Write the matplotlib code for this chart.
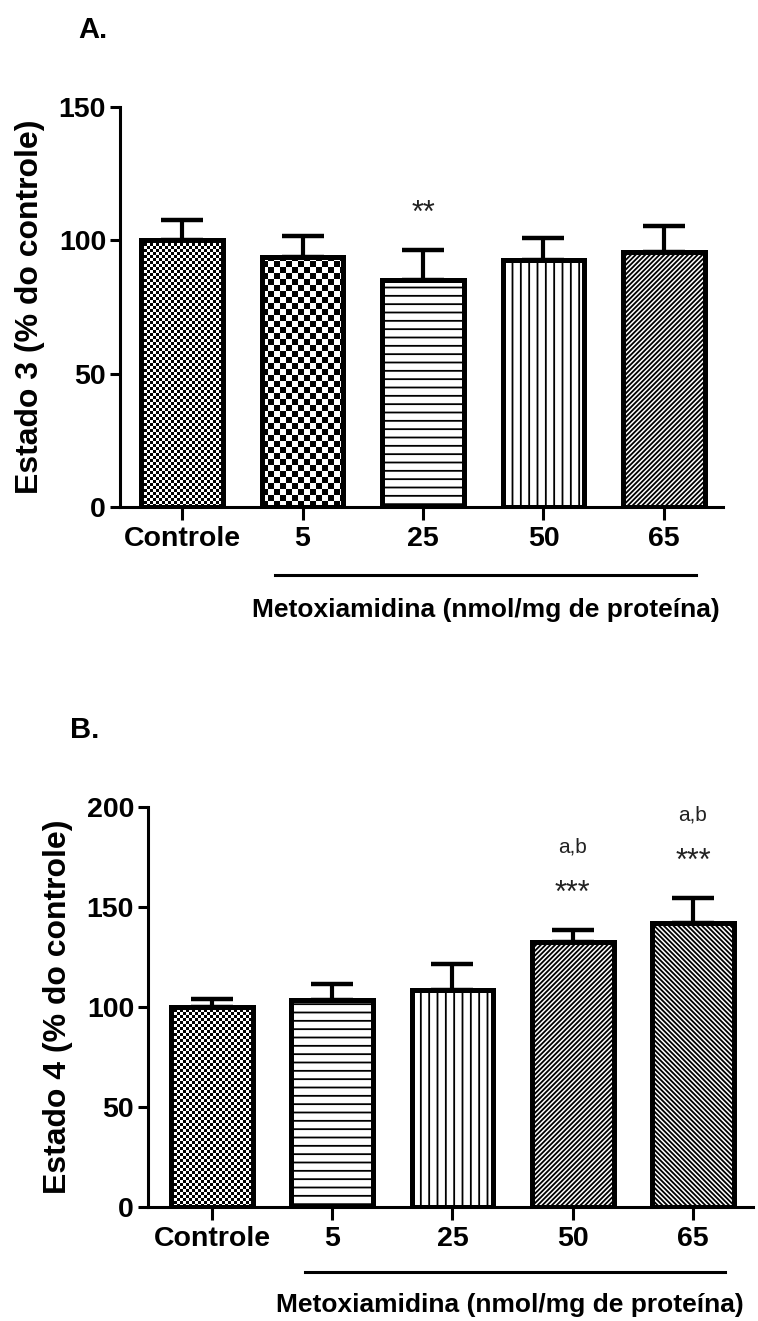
import matplotlib

matplotlib.use("Agg")

import matplotlib.pyplot as plt
import matplotlib.transforms as mtransforms
import numpy as np

plt.rcParams["font.family"] = ["Liberation Sans", "DejaVu Sans"]
plt.rcParams["font.weight"] = "bold"
plt.rcParams["hatch.linewidth"] = 1.3

# ---------------------------------------------------------------------------
# Data
# ---------------------------------------------------------------------------
categories = ["Controle", "5", "25", "50", "65"]

estado3_mean = [100.0, 93.7, 85.1, 92.6, 95.6]
estado3_sem = [7.6, 7.9, 11.3, 8.3, 9.8]
estado3_stars = ["", "", "**", "", ""]
estado3_letters = ["", "", "", "", ""]

estado4_mean = [100.0, 103.5, 108.5, 132.5, 142.0]
estado4_sem = [3.8, 8.0, 13.0, 6.0, 12.5]
estado4_stars = ["", "", "", "***", "***"]
estado4_letters = ["", "", "", "a,b", "a,b"]

# fill style per bar: "checkerN" = checkerboard with N-px cells, else a hatch
fills_a = ["checker3", "checker6", "--", "||", "/" * 7]
fills_b = ["checker3", "--", "||", "/" * 7, "\\" * 7]

XLABEL = "Metoxiamidina (nmol/mg de proteína)"


def _add_checker(ax, bar, cell):
    """Overlay a pixel checkerboard clipped to one bar."""
    x0, y0 = bar.get_x(), bar.get_y()
    x1, y1 = x0 + bar.get_width(), y0 + bar.get_height()
    (px0, py0), (px1, py1) = ax.transData.transform([(x0, y0), (x1, y1)])
    w, h = int(round(px1 - px0)), int(round(py1 - py0))
    jj, ii = np.meshgrid(np.arange(w), np.arange(h))
    board = ((ii // cell + jj // cell) % 2).astype(float)
    im = ax.imshow(
        board,
        cmap="gray",
        vmin=0,
        vmax=1,
        extent=(x0, x1, y0, y1),
        origin="lower",
        aspect="auto",
        interpolation="nearest",
        zorder=2.5,
    )
    im.set_clip_path(bar)


def _panel(ax, means, sems, fills, stars, letters, ylim, yticks, ylabel, xlim, line_y, label_x, label_y):
    x = np.arange(len(categories))
    ax.set_xlim(*xlim)
    ax.set_ylim(*ylim)

    bars = ax.bar(x, means, width=0.68, color="white", edgecolor="black", linewidth=3.6, zorder=2)
    for bar, fill in zip(bars, fills):
        if fill.startswith("checker"):
            _add_checker(ax, bar, int(fill[len("checker"):]))
        else:
            bar.set_hatch(fill)
    ax.bar(x, means, width=0.68, fill=False, edgecolor="black", linewidth=3.6, zorder=3)

    ax.errorbar(
        x,
        means,
        yerr=[np.zeros(len(x)), sems],
        fmt="none",
        ecolor="black",
        elinewidth=3,
        capsize=15,
        capthick=3.2,
        zorder=1.5,
    )

    for xi, m, s, st, lt in zip(x, means, sems, stars, letters):
        if st:
            ax.annotate(st, (xi, m + s), xytext=(0, 26), textcoords="offset points",
                        ha="center", va="center", fontsize=22, fontweight="normal", color="#222222")
        if lt:
            ax.annotate(lt, (xi, m + s), xytext=(0, 60), textcoords="offset points",
                        ha="center", va="center", fontsize=15, fontweight="normal", color="#222222")

    ax.set_xlim(*xlim)
    ax.set_ylim(*ylim)
    ax.set_yticks(yticks)
    ax.set_xticks(x)
    ax.set_xticklabels(categories)

    for side in ("top", "right"):
        ax.spines[side].set_visible(False)
    for side in ("left", "bottom"):
        ax.spines[side].set_linewidth(2.2)

    ax.tick_params(axis="y", length=7, width=2.2, pad=3, labelsize=20.5)
    ax.tick_params(axis="x", length=9, width=2.2, pad=5, labelsize=20.5)

    ax.set_ylabel(ylabel, fontsize=23, fontweight="bold")
    ax.yaxis.set_label_coords(-0.124, 0.5)

    trans = mtransforms.blended_transform_factory(ax.transData, ax.transAxes)
    ax.plot([0.77, 4.27], [line_y, line_y], transform=trans, color="black", lw=2.2, clip_on=False)
    ax.text(label_x, label_y, XLABEL, transform=trans, ha="center", va="center", fontsize=19)


fig = plt.figure(figsize=(7.58, 13.21), dpi=100)

ax_a = fig.add_axes([120 / 758, 814 / 1321, 603 / 758, 400 / 1321])
_panel(ax_a, estado3_mean, estado3_sem, fills_a, estado3_stars, estado3_letters,
       (0, 150), [0, 50, 100, 150], "Estado 3 (% do controle)",
       (-0.515, 4.49), -0.17, 2.52, -0.2575)

ax_b = fig.add_axes([148 / 758, 114 / 1321, 605 / 758, 400 / 1321])
_panel(ax_b, estado4_mean, estado4_sem, fills_b, estado4_stars, estado4_letters,
       (0, 200), [0, 50, 100, 150, 200], "Estado 4 (% do controle)",
       (-0.532, 4.50), -0.1625, 2.48, -0.245)

fig.text(78 / 758, 1 - 30 / 1321, "A.", fontsize=21, ha="left", va="center")
fig.text(70 / 758, 1 - 730 / 1321, "B.", fontsize=21, ha="left", va="center")

fig.savefig("out.png", dpi=100)
